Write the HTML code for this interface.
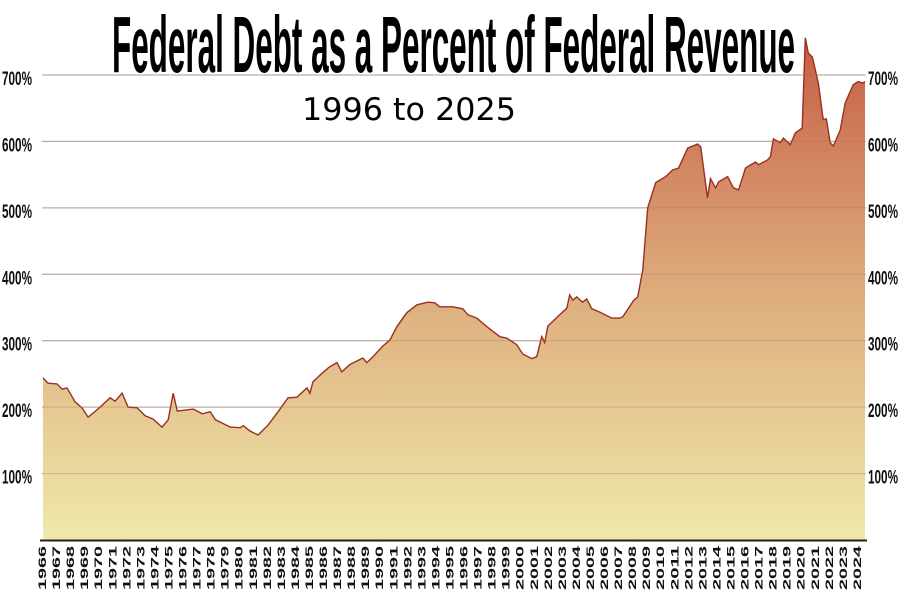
<!DOCTYPE html>
<html><head><meta charset="utf-8">
<style>
html,body{margin:0;padding:0;background:#fff;}
svg{display:block;}
.tk{font-family:"Liberation Sans",sans-serif;font-weight:bold;font-size:19px;fill:#111;}
.yr{font-family:"Liberation Sans",sans-serif;font-weight:bold;font-size:11px;fill:#111;}
</style></head>
<body>
<svg id="chart" width="900" height="600" viewBox="0 0 900 600">
<defs>
<linearGradient id="fillGrad" x1="0" y1="0" x2="0" y2="1" gradientUnits="objectBoundingBox">
<stop offset="0" stop-color="#c65d45"/>
<stop offset="0.45" stop-color="#dba577"/>
<stop offset="1" stop-color="#efe9ab"/>
</linearGradient>
</defs>
<g id="grid"></g>
<g id="area"></g>
<g id="ylabels"></g>
<g id="xlabels"></g>
<text x="112" y="72" textLength="683" lengthAdjust="spacingAndGlyphs" font-family="Liberation Sans, sans-serif" font-weight="bold" font-size="80" fill="#000">Federal Debt as a Percent of Federal Revenue</text>
<text x="302" y="120" textLength="214" lengthAdjust="spacingAndGlyphs" font-family="DejaVu Sans, sans-serif" font-size="31" fill="#000">1996 to 2025</text>
</svg>
<script>
const years=[1966.07,1966.43,1967.07,1967.43,1967.78,1968.35,1968.85,1969.28,1969.64,1970.13,1970.85,1971.2,1971.7,1972.13,1972.77,1973.34,1973.91,1974.55,1974.98,1975.34,1975.63,1976.77,1977.41,1977.98,1978.34,1979.4,1980.11,1980.33,1980.82,1981.38,1982.09,1982.8,1983.51,1984.15,1984.86,1985.07,1985.28,1985.78,1986.42,1986.99,1987.34,1987.91,1988.84,1989.12,1989.55,1990.26,1990.76,1991.25,1991.96,1992.68,1993.46,1993.96,1994.31,1995.24,1995.95,1996.31,1996.95,1997.67,1998.59,1999.08,1999.79,2000.22,2000.86,2001.21,2001.57,2001.78,2002.0,2002.85,2003.35,2003.56,2003.77,2004.06,2004.48,2004.77,2005.13,2005.7,2006.55,2007.12,2007.34,2008.12,2008.4,2008.76,2009.11,2009.68,2010.39,2010.88,2011.31,2011.96,2012.66,2012.88,2013.37,2013.58,2013.94,2014.16,2014.8,2015.22,2015.58,2016.07,2016.78,2017.0,2017.63,2017.84,2018.06,2018.55,2018.77,2019.26,2019.62,2020.11,2020.33,2020.54,2020.83,2021.25,2021.6,2021.82,2022.1,2022.32,2022.81,2023.17,2023.73,2024.08,2024.44,2024.58];
const values=[244,236,235,227,229,208,199,185,191,200,214,209,221,200,199,187,182,170,181,221,194,197,190,193,181,170,169,172,164,158,173,193,214,215,229,221,238,248,260,267,253,264,274,267,276,292,301,321,342,354,358,357,351,351,348,339,334,321,306,304,294,280,273,276,306,297,322,339,349,369,361,366,358,363,348,343,334,334,336,361,366,407,500,538,547,557,560,590,596,592,515,544,530,539,547,530,527,560,569,565,572,577,604,598,605,595,613,620,756,733,727,688,633,634,598,593,617,658,685,690,688,690];
const yTicks=[100,200,300,400,500,600,700];
const yTickLabels=["100%","200%","300%","400%","500%","600%","700%"];
const xTickYears=[];for(let y=1966;y<=2024;y++)xTickYears.push(y);

const NS="http://www.w3.org/2000/svg";
const X0=42,PXY=14.05,Y0=540,PXP=0.6643;
function xs(yr){return X0+(yr-1966)*PXY;}
function ys(v){return Y0-v*PXP;}
function mk(tag,attrs,parent){const e=document.createElementNS(NS,tag);for(const k in attrs)e.setAttribute(k,attrs[k]);parent.appendChild(e);return e;}

const grid=document.getElementById('grid');
yTicks.forEach(v=>{
  const l=mk('line',{x1:42,x2:866,y1:ys(v),y2:ys(v),stroke:'#c8c8c8','stroke-width':1.3},grid);
  
  
});

const area=document.getElementById('area');
let d='M'+xs(years[0]).toFixed(1)+','+Y0;
years.forEach((yr,i)=>{d+=' L'+xs(yr).toFixed(1)+','+ys(values[i]).toFixed(1);});
const lastX=xs(years[years.length-1]);
d+=' L'+lastX.toFixed(1)+','+Y0+' Z';
const poly=mk('path',{d:d,fill:'url(#fillGrad)'},area);


let ld='';
years.forEach((yr,i)=>{ld+=(i?' L':'M')+xs(yr).toFixed(1)+','+ys(values[i]).toFixed(1);});
const line=mk('path',{d:ld,fill:'none',stroke:'#9a3020','stroke-width':1.4},area);


yTicks.forEach(v=>{
  const l=mk('line',{x1:42,x2:lastX,y1:ys(v),y2:ys(v),stroke:'#a07050','stroke-opacity':0.35,'stroke-width':1},area);
  
  
});
const axis=mk('line',{x1:40,x2:867,y1:Y0+0.5,y2:Y0+0.5,stroke:'#222','stroke-width':2},area);



const yl=document.getElementById('ylabels');
yTicks.forEach((v,i)=>{
  [2,868].forEach(x=>{
    const t=mk('text',{class:'tk',x:x,y:ys(v)+10,textLength:30,lengthAdjust:'spacingAndGlyphs'},yl);
    t.textContent=yTickLabels[i];
    
    
  });
});
const xl=document.getElementById('xlabels');
xTickYears.forEach(yr=>{
  const t=mk('text',{class:'yr',x:0,y:0,textLength:44,lengthAdjust:'spacingAndGlyphs',transform:'translate('+(xs(yr)+4)+',590) rotate(-90)'},xl);
  t.textContent=String(yr);
  
  
});
</script>
</body></html>
